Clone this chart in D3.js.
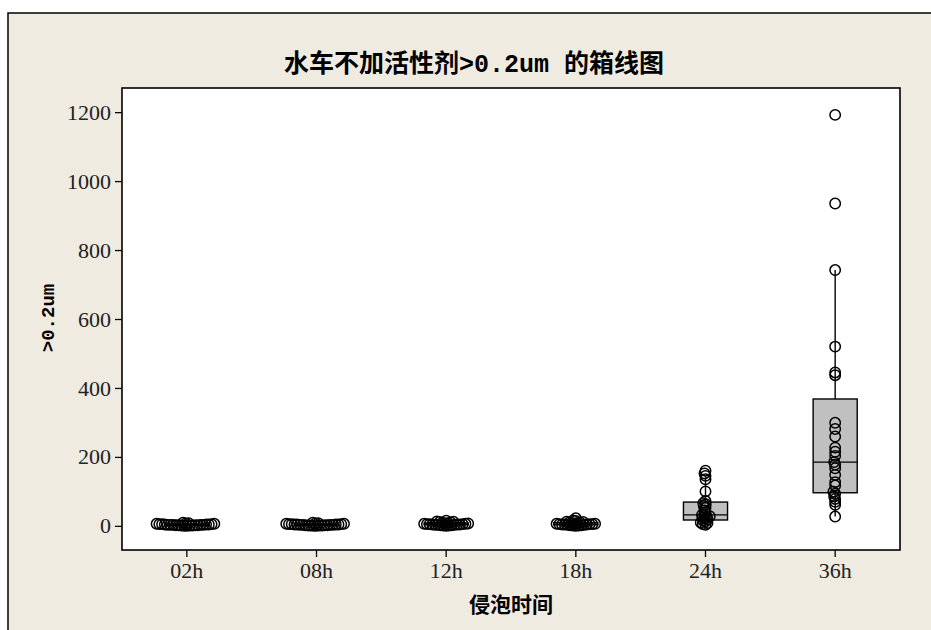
<!DOCTYPE html>
<html>
<head>
<meta charset="utf-8">
<script src="https://cdn.jsdelivr.net/npm/d3@7/dist/d3.min.js"></script>
<style>
  body { margin: 0; background: #ffffff; }
  svg { display: block; }
</style>
</head>
<body>
<svg id="chart" width="931" height="630"></svg>
<script>
// Soaking time groups and the >0.2um readings measured in each
const categories = ["02h", "08h", "12h", "18h", "24h", "36h"];
const values02h = [0, 0, 1, 1, 1, 2, 2, 2, 2, 3, 3, 3, 3, 3, 4, 4, 4, 5, 5, 5, 6, 6, 7, 8, 9];
const values08h = [0, 0, 1, 1, 1, 1, 2, 2, 2, 3, 3, 3, 3, 4, 4, 4, 4, 5, 5, 5, 6, 6, 7, 8, 9];
const values12h = [0, 1, 1, 2, 2, 3, 3, 3, 4, 4, 4, 5, 5, 5, 6, 6, 7, 7, 8, 9, 10, 11, 12, 13, 15];
const values18h = [0, 1, 1, 2, 2, 3, 3, 4, 4, 4, 5, 5, 5, 6, 6, 7, 8, 8, 9, 10, 11, 12, 14, 16, 22];
const values24h = [3, 5, 8, 10, 13, 16, 18, 21, 24, 26, 28, 30, 32, 38, 45, 52, 58, 63, 66, 72, 100, 135, 145, 152, 160];
const values36h = [27, 61, 70, 78, 85, 93, 99, 117, 127, 148, 167, 178, 185, 203, 215, 227, 259, 281, 299, 437, 445, 520, 742, 935, 1192];
const yTickValues = [0, 200, 400, 600, 800, 1000, 1200];

const titleCjkA = "水车不加活性剂";
const titleAscii = ">0.2um ";
const titleCjkB = "的箱线图";
const xTitle = "侵泡时间";
const yTitle = ">0.2um";

const groups = [values02h, values08h, values12h, values18h, values24h, values36h];

const plot = { left: 122, right: 900, top: 88, bottom: 550 };

const svg = d3.select("#chart");

// graph frame
svg.append("rect")
  .attr("x", 8).attr("y", 13)
  .attr("width", 940).attr("height", 640)
  .attr("fill", "#efebe1")
  .attr("stroke", "#000").attr("stroke-width", 1.5);

// data region
svg.append("rect")
  .attr("x", plot.left).attr("y", plot.top)
  .attr("width", plot.right - plot.left).attr("height", plot.bottom - plot.top)
  .attr("fill", "#ffffff");

const x = d3.scaleBand()
  .domain(categories)
  .range([plot.left, plot.right])
  .paddingInner(0).paddingOuter(0);

const y = d3.scaleLinear()
  .domain([-70, 1270])
  .range([plot.bottom, plot.top]);

// quartiles by the (n+1)p rule
function quart(sorted, p) {
  const n = sorted.length;
  const pos = p * (n + 1);
  if (pos <= 1) return sorted[0];
  if (pos >= n) return sorted[n - 1];
  const i = Math.floor(pos), f = pos - i;
  return sorted[i - 1] + f * (sorted[i] - sorted[i - 1]);
}

const stats = groups.map((vals, gi) => {
  const s = vals.slice().sort((a, b) => a - b);
  const q1 = quart(s, 0.25), med = quart(s, 0.5), q3 = quart(s, 0.75);
  const iqr = q3 - q1;
  const hiFence = q3 + 1.5 * iqr, loFence = q1 - 1.5 * iqr;
  const hi = d3.max(s.filter(v => v <= hiFence));
  const lo = d3.min(s.filter(v => v >= loFence));
  return { cat: categories[gi], sorted: s, q1, med, q3, hi, lo };
});

const bw = x.bandwidth() * 0.34;
const cx = c => x(c) + x.bandwidth() / 2;

const marks = svg.append("g");

// whiskers
stats.forEach(st => {
  marks.append("line")
    .attr("x1", cx(st.cat)).attr("x2", cx(st.cat))
    .attr("y1", y(st.q3)).attr("y2", y(st.hi))
    .attr("stroke", "#000").attr("stroke-width", 1.4);
  marks.append("line")
    .attr("x1", cx(st.cat)).attr("x2", cx(st.cat))
    .attr("y1", y(st.q1)).attr("y2", y(st.lo))
    .attr("stroke", "#000").attr("stroke-width", 1.4);
});

// boxes and medians
marks.selectAll("rect.box")
  .data(stats)
  .join("rect")
  .attr("class", "box")
  .attr("x", d => cx(d.cat) - bw / 2)
  .attr("width", bw)
  .attr("y", d => y(d.q3))
  .attr("height", d => y(d.q1) - y(d.q3))
  .attr("fill", "#c0c0c0")
  .attr("stroke", "#000").attr("stroke-width", 1.4);

marks.selectAll("line.median")
  .data(stats)
  .join("line")
  .attr("class", "median")
  .attr("x1", d => cx(d.cat) - bw / 2)
  .attr("x2", d => cx(d.cat) + bw / 2)
  .attr("y1", d => y(d.med)).attr("y2", d => y(d.med))
  .attr("stroke", "#000").attr("stroke-width", 1.4);

// individual values, spread sideways where they would overlap
const dmin = 2.6;
stats.forEach(st => {
  const placed = [];
  st.sorted.forEach(v => {
    const py = y(v);
    let dx = 0;
    for (let k = 0; k < 400; k++) {
      const cand = (k % 2 === 0 ? 1 : -1) * Math.ceil(k / 2) * 0.25;
      const ok = placed.every(p => (p.dx - cand) ** 2 + (p.py - py) ** 2 >= dmin * dmin);
      if (ok) { dx = cand; break; }
    }
    placed.push({ dx, py, v });
  });
  marks.selectAll(null)
    .data(placed)
    .join("circle")
    .attr("cx", d => cx(st.cat) + d.dx)
    .attr("cy", d => d.py)
    .attr("r", 5.2)
    .attr("fill", "none")
    .attr("stroke", "#000").attr("stroke-width", 1.5);
});

// plot border
svg.append("rect")
  .attr("x", plot.left).attr("y", plot.top)
  .attr("width", plot.right - plot.left).attr("height", plot.bottom - plot.top)
  .attr("fill", "none")
  .attr("stroke", "#000").attr("stroke-width", 1.6);

const tickFont = "'Liberation Serif', 'DejaVu Serif', serif";

// axes
const yAxis = svg.append("g")
  .attr("transform", `translate(${plot.left},0)`)
  .call(d3.axisLeft(y).tickValues(yTickValues).tickFormat(d3.format("d")).tickSize(7).tickPadding(4));
const xAxis = svg.append("g")
  .attr("transform", `translate(0,${plot.bottom})`)
  .call(d3.axisBottom(x).tickSize(7).tickPadding(5));

[yAxis, xAxis].forEach(ax => {
  ax.select(".domain").remove();
  ax.selectAll(".tick line").attr("stroke", "#000").attr("stroke-width", 1.3);
  ax.selectAll(".tick text")
    .attr("fill", "#222")
    .style("font-family", tickFont)
    .style("font-size", "22px");
});

// titles
const cjk = "'Noto Sans CJK SC', 'Noto Sans CJK JP', sans-serif";
const mono = "'Liberation Mono', 'DejaVu Sans Mono', monospace";

const title = svg.append("text")
  .attr("x", 474).attr("y", 72)
  .attr("text-anchor", "middle")
  .style("font-weight", "bold")
  .style("font-size", "25px")
  .attr("fill", "#000");
title.append("tspan").style("font-family", cjk).text(titleCjkA);
title.append("tspan").style("font-family", mono).attr("xml:space", "preserve").text(titleAscii);
title.append("tspan").style("font-family", cjk).text(titleCjkB);

svg.append("text")
  .attr("x", (plot.left + plot.right) / 2).attr("y", 612)
  .attr("text-anchor", "middle")
  .style("font-family", cjk)
  .style("font-weight", "bold")
  .style("font-size", "21px")
  .attr("fill", "#000")
  .text(xTitle);

svg.append("text")
  .attr("transform", `translate(54,318) rotate(-90)`)
  .attr("text-anchor", "middle")
  .style("font-family", mono)
  .style("font-weight", "bold")
  .style("font-size", "19px")
  .attr("fill", "#000")
  .text(yTitle);
</script>
</body>
</html>
